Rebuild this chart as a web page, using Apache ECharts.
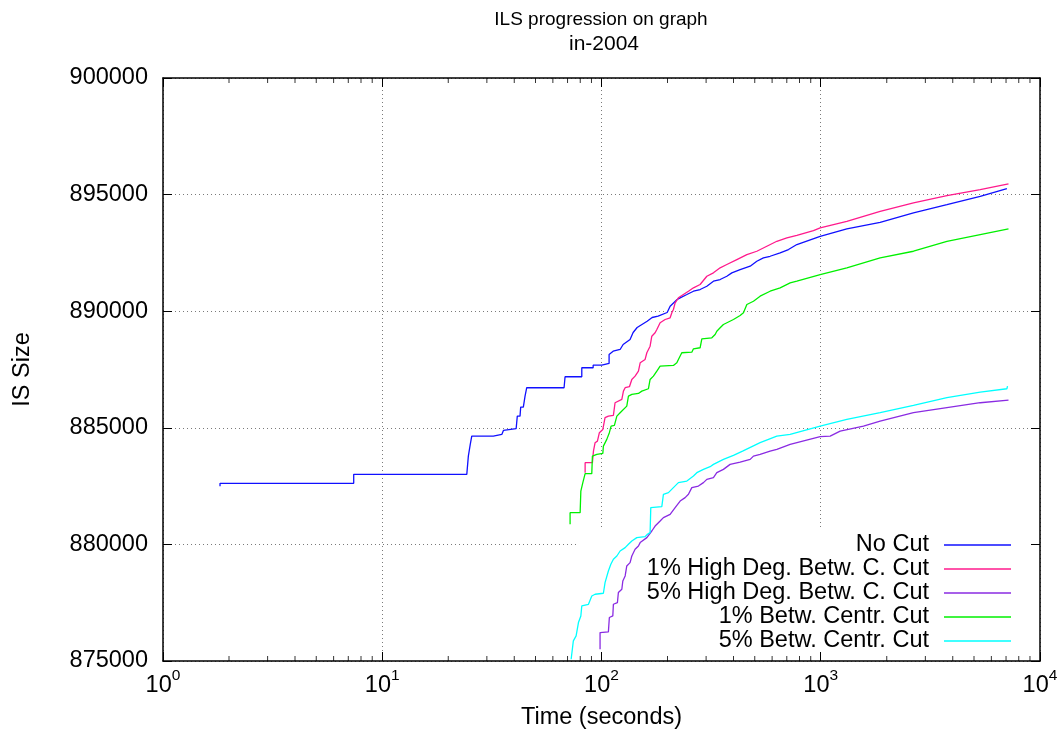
<!DOCTYPE html>
<html><head><meta charset="utf-8">
<script src="https://cdn.jsdelivr.net/npm/echarts@6/dist/echarts.min.js"></script>
<style>html,body{margin:0;padding:0;background:#fff}#c{width:1062px;height:735px}</style>
</head><body><div id="c"></div>
<script>
const FONT = '"Liberation Sans", Arial, Helvetica, sans-serif';

const seriesNames = ['No Cut', '1% High Deg. Betw. C. Cut', '5% High Deg. Betw. C. Cut', '1% Betw. Centr. Cut', '5% Betw. Centr. Cut'];
const seriesColors = ['#1010ff', '#ff1a8c', '#8a2be2', '#00f000', '#00ffff'];

const noCut = [[1.82,882489],[1.82,882618],[7.41,882618],[7.41,883003],[24.3,883003],[24.7,883787],[25.2,884289],[25.6,884644],[32.1,884644],[35.1,884717],[35.7,884889],[40.8,884961],[41.3,885501],[42.5,885501],[42.8,885887],[44.0,885887],[44.8,886358],[45.6,886718],[67.5,886718],[68.2,887189],[81.3,887189],[81.3,887575],[91.6,887575],[91.6,887686],[100.3,887686],[100.3,887759],[108.3,887759],[108.3,888145],[113,888286],[121.6,888359],[125.5,888573],[135,888787],[139.4,889087],[145.4,889302],[161.5,889572],[170.2,889730],[181.2,889786],[199.3,889944],[205.6,890214],[221.3,890501],[228.4,890574],[245.1,890715],[262.7,890857],[281.7,890930],[302.3,891071],[324,891285],[347.6,891358],[372.9,891500],[393,891645],[428.9,891787],[476.5,891928],[510.9,892142],[547.6,892288],[587.5,892356],[652.8,892502],[712.5,892644],[778,892858],[993.8,893213],[1315,893530],[1866,893813],[2648,894216],[3762,894572],[5337,894927],[7063,895257]];

const high1 = [[84.2,883076],[84.2,883505],[90.9,883505],[91.9,884002],[93.5,884362],[95.8,884430],[97.8,884790],[99.3,884858],[101.4,884931],[103.8,885433],[107.5,885501],[113.3,885531],[115.3,886075],[123.8,886217],[125.9,886572],[128.2,886718],[134.1,886761],[137.5,887074],[142.3,887215],[147.4,887429],[150.1,887789],[158.1,887931],[161,888218],[166.6,888500],[169.6,888929],[175.6,889075],[178.8,889216],[185.1,889503],[195.1,889644],[205.6,889717],[209.3,889931],[212.8,890073],[216.7,890360],[224.3,890574],[236.4,890715],[249.2,890857],[262.7,891003],[281.7,891144],[302.3,891500],[324,891645],[347.6,891859],[372.9,892001],[414.3,892215],[460.2,892429],[510.9,892571],[567.6,892785],[630.5,892999],[700.5,893145],[778,893256],[926.1,893458],[993.8,893573],[1315,893856],[1866,894285],[2648,894644],[3762,894957],[5337,895214],[7183,895458]];

const high5 = [[98.5,875505],[98.5,876221],[107.5,876247],[108.6,876864],[112.6,876932],[113.3,877433],[118.2,877506],[119.4,877935],[123.8,878076],[125.1,878432],[128.2,878646],[130.4,879075],[135,879220],[137.5,879503],[142.3,879790],[147.4,879931],[150.1,880077],[161,880291],[169.6,880574],[175.6,880788],[185.1,881002],[191.6,881148],[205.6,881289],[216.7,881577],[228.4,881859],[240.7,882005],[249.2,882147],[258.2,882434],[276.7,882502],[291.7,882648],[302.3,882789],[324,882862],[335.7,883076],[359.8,883217],[386,883432],[428.9,883530],[476.5,883646],[493.2,883787],[529,883860],[587.5,884002],[630.5,884074],[725.1,884289],[993.8,884619],[1104,884644],[1226,884858],[1566,885073],[1866,885287],[2648,885647],[3762,885861],[5337,886075],[7183,886187]];

const betw1 = [[71.9,880861],[71.9,881362],[79.9,881362],[80.5,882288],[82.2,882648],[84.2,883033],[90.3,883033],[90.9,883787],[95.2,883860],[101.4,883903],[102,884216],[105.7,884503],[108.6,884790],[110.6,885073],[114.5,885103],[117.5,885501],[121.6,885647],[130.4,885930],[132.7,886358],[137.5,886431],[147.4,886474],[152.7,886572],[163.7,886675],[166.6,887074],[172.5,887215],[178.8,887429],[185.1,887644],[212.8,887673],[220.6,887789],[224.3,887931],[232.4,888218],[258.2,888243],[262.7,888389],[281.7,888432],[286.8,888817],[318.6,888860],[329.8,889002],[335.7,889143],[347.6,889289],[359.8,889430],[366.4,889503],[399.8,889644],[428.9,889816],[444.1,889931],[460.2,890287],[493.2,890428],[529,890643],[587.5,890857],[652.8,891003],[725.1,891217],[778,891285],[993.8,891572],[1315,891859],[1866,892288],[2648,892571],[3762,892999],[5337,893286],[7183,893530]];

const betw5 = [[72.7,875077],[74.4,875861],[76.6,876075],[78.5,876649],[80.5,876932],[81.3,877360],[87.2,877433],[90.3,877789],[93.5,877862],[102,877905],[103.8,878363],[107.5,878860],[110.3,879147],[113.3,879362],[117.5,879503],[121.6,879717],[128.2,879863],[132.7,880004],[137.5,880146],[144.9,880291],[158.1,880334],[162,880433],[166.6,880506],[167.8,881577],[188.4,881619],[191.6,882147],[202,882219],[205.6,882288],[212.8,882434],[224.3,882648],[245.1,882716],[262.7,882930],[272.2,883076],[291.7,883217],[312.9,883333],[324,883432],[359.8,883646],[399.8,883817],[440,884000],[529,884362],[630.5,884644],[725.1,884717],[993.8,885073],[1315,885360],[1866,885647],[2648,885960],[3762,886290],[5337,886529],[7063,886675],[7110,886787]];

const seriesData = [noCut, high1, high5, betw1, betw5];

const xMin = 1, xMax = 10000;
const yMin = 875000, yMax = 900000, yStep = 5000;

// minor tick positions of the log axis (2..9 per decade)
const minorTicks = [];
for (let k = 0; k < 4; k++) for (let m = 2; m < 10; m++) minorTicks.push(m * Math.pow(10, k));

const gridLine = {show: true, lineStyle: {color: '#7a7a7a', width: 1, type: [1, 3]}};
const frameLine = {show: true, lineStyle: {color: '#000', width: 1.5}};
const noLine = {show: false};

const xLog = {type: 'log', logBase: 10, min: xMin, max: xMax};
const yBase = {type: 'value', min: yMin, max: yMax, interval: yStep};

const chart = echarts.init(document.getElementById('c'), null, {renderer: 'canvas'});
const lineSeries = seriesNames.map((n, i) => ({
  type: 'line', name: n, data: seriesData[i], xAxisIndex: 0, yAxisIndex: 0,
  symbol: 'none', showSymbol: false, z: 2,
  lineStyle: {color: seriesColors[i], width: 1.3},
  itemStyle: {color: seriesColors[i]},
  emphasis: {disabled: true}
}));
const tickSeries = [
  {type: 'scatter', name: 'minorBottom', silent: true, clip: false, z: 6,
   data: minorTicks.map(x => [x, yMin]), symbol: 'rect', symbolSize: [1, 5], symbolOffset: [0, -2.5],
   itemStyle: {color: '#000'}, emphasis: {disabled: true}},
  {type: 'scatter', name: 'minorTop', silent: true, clip: false, z: 6,
   data: minorTicks.map(x => [x, yMax]), symbol: 'rect', symbolSize: [1, 5], symbolOffset: [0, 2.5],
   itemStyle: {color: '#000'}, emphasis: {disabled: true}}
];

chart.setOption({
  animation: false,
  backgroundColor: '#fff',
  textStyle: {fontFamily: FONT},
  graphic: [
    {type: 'text', x: 601, y: 20, z: 10, style: {text: 'ILS progression on graph', font: '19px ' + FONT, fill: '#000', align: 'center', verticalAlign: 'middle'}},
    {type: 'text', x: 604, y: 44, z: 10, style: {text: 'in-2004', font: '21px ' + FONT, fill: '#000', align: 'center', verticalAlign: 'middle'}}
  ],
  grid: {left: 163, right: 22, top: 78, bottom: 73, containLabel: false},
  xAxis: [
    Object.assign({}, xLog, {position: 'bottom', z: 0, axisLine: noLine, axisTick: noLine, axisLabel: noLine, splitLine: gridLine}),
    Object.assign({}, xLog, {position: 'bottom', z: 5, axisLine: frameLine,
      axisTick: {show: true, inside: true, length: 9, lineStyle: {color: '#000', width: 1}},
      axisLabel: {show: true, margin: 7, color: '#000',
        formatter: v => '{b|10}{s|' + Math.round(Math.log10(v)) + '}',
        rich: {b: {fontSize: 23.5, fontFamily: FONT, color: '#000', verticalAlign: 'bottom', lineHeight: 30},
               s: {fontSize: 15.5, fontFamily: FONT, color: '#000', verticalAlign: 'top', lineHeight: 30}}},
      splitLine: noLine,
      name: 'Time (seconds)', nameLocation: 'middle', nameGap: 45,
      nameTextStyle: {fontSize: 23.5, color: '#000', fontFamily: FONT}}),
    Object.assign({}, xLog, {position: 'top', z: 5, axisLine: frameLine,
      axisTick: {show: true, inside: true, length: 9, lineStyle: {color: '#000', width: 1}},
      axisLabel: noLine, splitLine: noLine})
  ],
  yAxis: [
    Object.assign({}, yBase, {position: 'left', z: 0, axisLine: noLine, axisTick: noLine, axisLabel: noLine, splitLine: gridLine}),
    Object.assign({}, yBase, {position: 'left', z: 5, axisLine: frameLine,
      axisTick: {show: true, inside: true, length: 9, lineStyle: {color: '#000', width: 1}},
      axisLabel: {show: true, margin: 15, color: '#000', fontSize: 23.5, fontFamily: FONT, formatter: v => String(v)},
      splitLine: noLine,
      name: 'IS Size', nameLocation: 'middle', nameGap: 128, nameRotate: 90,
      nameTextStyle: {fontSize: 23.5, color: '#000', fontFamily: FONT}}),
    Object.assign({}, yBase, {position: 'right', z: 5, axisLine: frameLine,
      axisTick: {show: true, inside: true, length: 9, lineStyle: {color: '#000', width: 1}},
      axisLabel: noLine, splitLine: noLine})
  ],
  legend: {
    orient: 'vertical', right: 23, top: 530, align: 'right', z: 1,
    backgroundColor: '#fff', padding: [3, 28, 8, 70],
    icon: 'rect', itemWidth: 67, itemHeight: 1.5, itemGap: 0, selectedMode: false,
    textStyle: {fontSize: 23.5, color: '#000', fontFamily: FONT, lineHeight: 23.7, padding: [0, 10, 0, 0]},
    data: seriesNames
  },
  series: lineSeries.concat(tickSeries)
});
</script></body></html>
